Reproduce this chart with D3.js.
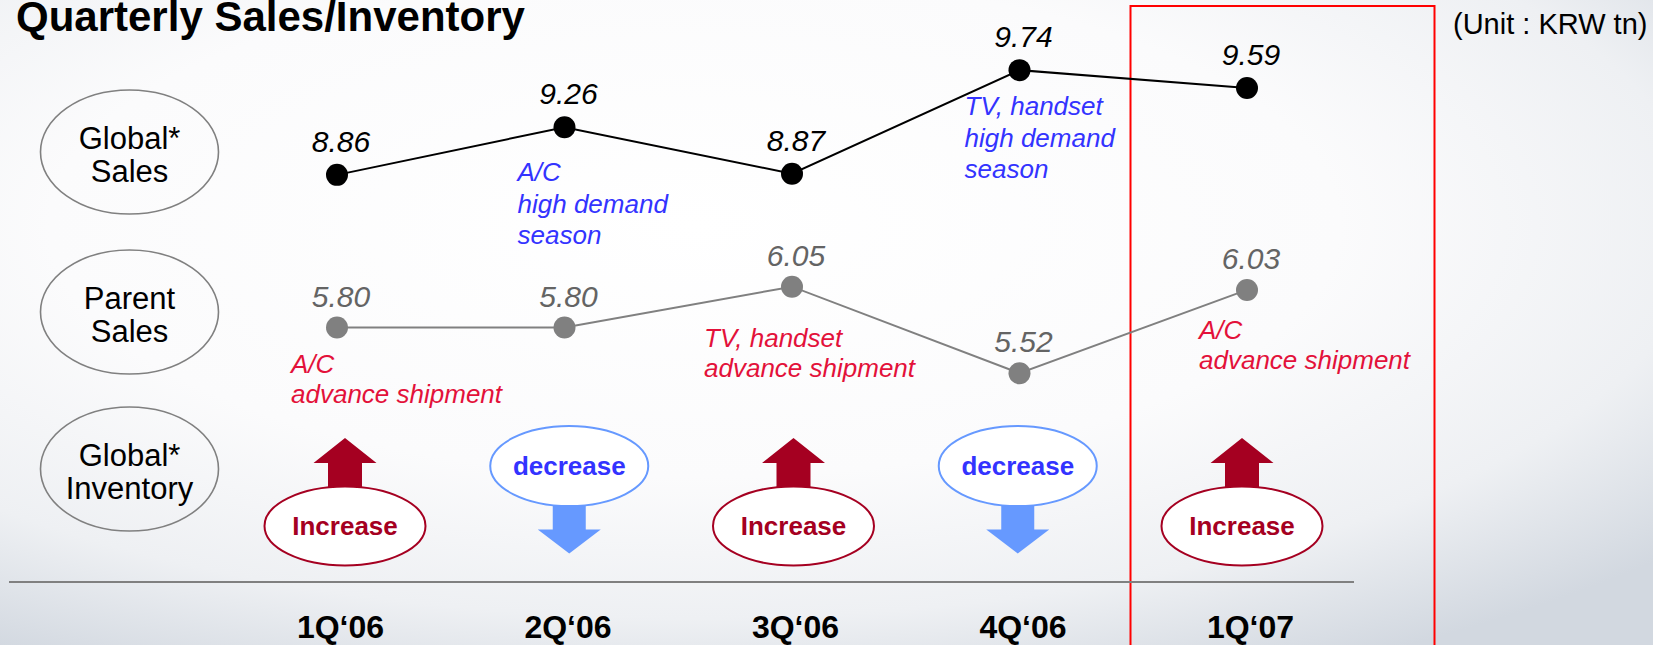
<!DOCTYPE html>
<html>
<head>
<meta charset="utf-8">
<script src="https://cdn.jsdelivr.net/npm/d3@7"></script>
<style>
  html, body { margin: 0; padding: 0; background: #fff; }
  svg { display: block; font-family: Arial, "Liberation Sans", sans-serif; }
</style>
</head>
<body>
<svg id="chart" width="1653" height="645"></svg>
<script>
// ---------------- data ----------------
const chartTitle = "Quarterly Sales/Inventory";
const unitLabel = "(Unit : KRW tn)";
const quarters = ["1Q\u201806", "2Q\u201806", "3Q\u201806", "4Q\u201806", "1Q\u201807"];
const globalSales = [8.86, 9.26, 8.87, 9.74, 9.59];
const parentSales = [5.80, 5.80, 6.05, 5.52, 6.03];
const inventoryTrend = ["Increase", "decrease", "Increase", "decrease", "Increase"];
const rowLabels = [["Global*", "Sales"], ["Parent", "Sales"], ["Global*", "Inventory"]];
const globalNotes = [
  { q: "2Q\u201806", lines: ["A/C", "high demand", "season"] },
  { q: "4Q\u201806", lines: ["TV, handset", "high demand", "season"] }
];
const parentNotes = [
  { q: "1Q\u201806", lines: ["A/C", "advance shipment"] },
  { q: "3Q\u201806", lines: ["TV, handset", "advance shipment"] },
  { q: "1Q\u201807", lines: ["A/C", "advance shipment"] }
];
const highlightQuarter = "1Q\u201807";

// ---------------- layout / style ----------------
const W = 1653, H = 645;
const svg = d3.select("#chart");

const x = d3.scalePoint().domain(quarters).range([337, 1247]);
const xInv = d3.scalePoint().domain(quarters).range([345, 1242]);
const yGlobal = d3.scaleLinear().domain([8.8, 9.8]).range([182, 63]);
const yParent = d3.scaleLinear().domain([5.5, 6.1]).range([376.5, 278.5]);

const C = {
  black: "#000000",
  gray: "#808080",
  grayText: "#646464",
  blue: "#3333ff",
  lightBlue: "#6699ff",
  red: "#e3113a",
  darkRed: "#a50021",
  box: "#ff0000"
};

// background
const defs = svg.append("defs");
const rg = defs.append("radialGradient").attr("id", "bg")
  .attr("cx", 0.42).attr("cy", 0.35).attr("r", 0.78).attr("fx", 0.42).attr("fy", 0.35);
[[0, "#ffffff"], [0.5, "#fbfbfc"], [0.78, "#eef0f3"], [1, "#d2d8e0"]].forEach(([o, c]) =>
  rg.append("stop").attr("offset", o).attr("stop-color", c));
svg.append("rect").attr("width", W).attr("height", H).attr("fill", "url(#bg)");

// title & unit
svg.append("text").attr("x", 16).attr("y", 31)
  .attr("font-size", 42).attr("font-weight", "bold").attr("fill", C.black)
  .text(chartTitle);
svg.append("text").attr("x", 1453).attr("y", 34)
  .attr("font-size", 29).attr("fill", C.black)
  .text(unitLabel);

// highlight box around last quarter
const hx = x(highlightQuarter);
svg.append("rect")
  .attr("x", hx - 116.5).attr("y", 6)
  .attr("width", 304).attr("height", H + 20)
  .attr("fill", "none").attr("stroke", C.box).attr("stroke-width", 2);

// row label ellipses
const rowY = [152, 312, 469];
const rows = svg.append("g").selectAll("g").data(rowLabels).join("g")
  .attr("transform", (d, i) => `translate(129.5,${rowY[i]})`);
rows.append("ellipse").attr("rx", 89).attr("ry", 62)
  .attr("fill", "none").attr("stroke", C.gray).attr("stroke-width", 1.6);
rows.append("text").attr("text-anchor", "middle").attr("font-size", 31).attr("fill", C.black)
  .selectAll("tspan").data(d => d).join("tspan")
  .attr("x", 0).attr("y", (d, i) => i === 0 ? -3 : 30).text(d => d);

// baseline rule
svg.append("line").attr("x1", 9).attr("x2", 1354).attr("y1", 582).attr("y2", 582)
  .attr("stroke", C.gray).attr("stroke-width", 2.2);

// quarter axis labels
const axis = d3.axisBottom(x).tickSize(0).tickPadding(0);
const ax = svg.append("g").attr("transform", "translate(3,614)").call(axis);
ax.select(".domain").remove();
ax.selectAll("text").attr("font-size", 32).attr("font-weight", "bold")
  .attr("fill", C.black).attr("font-family", "Arial, 'Liberation Sans', sans-serif")
  .attr("dy", "0.75em");

// series drawer
function drawSeries(values, yScale, lineColor, dotColor, labelColor, labelDy) {
  const g = svg.append("g");
  const line = d3.line().x((d, i) => x(quarters[i])).y(d => yScale(d));
  g.append("path").datum(values).attr("d", line)
    .attr("fill", "none").attr("stroke", lineColor).attr("stroke-width", 2);
  g.selectAll("circle").data(values).join("circle")
    .attr("cx", (d, i) => x(quarters[i])).attr("cy", d => yScale(d)).attr("r", 11)
    .attr("fill", dotColor);
  g.selectAll("text").data(values).join("text")
    .attr("x", (d, i) => x(quarters[i]) + 4).attr("y", d => yScale(d) + labelDy)
    .attr("text-anchor", "middle").attr("font-size", 30).attr("font-style", "italic")
    .attr("fill", labelColor).text(d => d.toFixed(2));
}
drawSeries(globalSales, yGlobal, C.black, C.black, C.black, -23);
drawSeries(parentSales, yParent, C.gray, C.gray, C.grayText, -21);

// annotations (offsets relative to the data point they describe)
const globalNoteOffset = { "2Q\u201806": [-47, 54], "4Q\u201806": [-55, 45] };
const parentNoteOffset = { "1Q\u201806": [-46, 45.5], "3Q\u201806": [-88, 60], "1Q\u201807": [-48, 49] };
function drawNotes(notes, values, yScale, offsets, color, lh) {
  svg.append("g").selectAll("text").data(notes).join("text")
    .attr("font-size", 26).attr("font-style", "italic").attr("fill", color)
    .each(function (d) {
      const i = quarters.indexOf(d.q);
      const [dx, dy] = offsets[d.q];
      const x0 = x(d.q) + dx, y0 = yScale(values[i]) + dy;
      d3.select(this).selectAll("tspan").data(d.lines).join("tspan")
        .attr("x", x0).attr("y", (l, k) => y0 + k * lh).text(l => l);
    });
}
drawNotes(globalNotes, globalSales, yGlobal, globalNoteOffset, C.blue, 31.5);
drawNotes(parentNotes, parentSales, yParent, parentNoteOffset, C.red, 30);

// inventory symbols
const inv = svg.append("g").selectAll("g").data(inventoryTrend).join("g")
  .attr("transform", (d, i) => `translate(${xInv(quarters[i])},0)`);
inv.each(function (d) {
  const g = d3.select(this);
  if (d === "Increase") {
    g.append("path")
      .attr("d", "M0,438 L31.5,463 L17,463 L17,492 L-17,492 L-17,463 L-31.5,463 Z")
      .attr("fill", C.darkRed);
    g.append("ellipse").attr("cy", 526).attr("rx", 80.5).attr("ry", 39.5)
      .attr("fill", "#ffffff").attr("stroke", C.darkRed).attr("stroke-width", 2);
    g.append("text").attr("y", 535).attr("text-anchor", "middle")
      .attr("font-size", 26).attr("font-weight", "bold").attr("fill", C.darkRed).text(d);
  } else {
    g.append("path")
      .attr("d", "M-16.5,500 L16.5,500 L16.5,529.5 L31.5,529.5 L0,553.5 L-31.5,529.5 L-16.5,529.5 Z")
      .attr("fill", C.lightBlue);
    g.append("ellipse").attr("cy", 466).attr("rx", 79).attr("ry", 40)
      .attr("fill", "#ffffff").attr("stroke", C.lightBlue).attr("stroke-width", 2);
    g.append("text").attr("y", 475).attr("text-anchor", "middle")
      .attr("font-size", 26).attr("font-weight", "bold").attr("fill", C.blue).text(d);
  }
});
</script>
</body>
</html>
